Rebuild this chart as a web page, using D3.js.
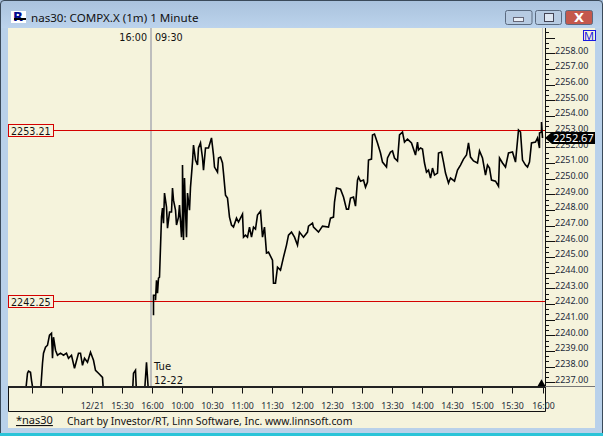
<!DOCTYPE html>
<html><head><meta charset="utf-8">
<script src="https://cdnjs.cloudflare.com/ajax/libs/d3/7.8.5/d3.min.js"></script>
<style>html,body{margin:0;padding:0;background:#b9d1ea}svg{display:block}</style></head>
<body><svg id="c" width="603" height="436"></svg>
<script>
const title = "nas30: COMPX.X (1m) 1 Minute";
const priorMinutes = [-127,-125,-124,-122,-121,-119,-112,-110,-109,-107,-105,-103,-101,-100,-99,-97,-95,-92,-89,-86,-84,-81,-78,-74,-72,-70,-68,-65,-62,-59,-57,-54,-50,-49,-20,-19,-17,-16,-8,-6,-4,-1];
const priorValues = [2236.4,2237.65,2237.78,2237.71,2237.2,2236.4,2236.4,2238.29,2238.93,2239.31,2239.44,2240.08,2240.2,2238.61,2239.95,2239.12,2238.8,2238.93,2238.8,2238.93,2238.61,2238.8,2237.97,2238.93,2238.93,2238.16,2238.61,2238.35,2238.99,2238.48,2237.84,2237.65,2237.39,2236.4,2236.4,2237.65,2237.84,2236.4,2236.4,2238.35,2236.4,2236.4];
const todayMinutes = [1,1,3,3,4,5,6,7,8,9,10,11,12,14,15,17,19,20,21,23,24,26,27,29,30,30,31,32,33,34,35,37,38,40,41,43,45,46,48,50,51,53,56,59,61,62,65,66,68,70,71,73,75,77,79,81,84,86,90,91,93,95,97,99,101,103,105,108,110,112,114,116,120,121,123,125,128,131,134,136,139,142,145,147,151,155,156,160,161,166,170,176,178,181,182,184,188,191,194,196,198,201,203,205,206,208,211,213,215,216,219,220,222,225,228,230,234,235,238,240,242,245,247,250,252,255,259,263,265,266,268,270,272,274,276,278,280,282,285,286,289,291,293,296,298,302,305,308,311,314,316,318,321,325,327,330,333,335,337,339,343,346,347,350,353,356,360,363,366,368,370,373,375,377,379,383,385,387,387,389,389,390];
const todayValues = [2241.36,2242.63,2242.63,2242.31,2243.59,2242.76,2243.72,2243.78,2245.7,2247.62,2248.19,2247.23,2249.15,2248.26,2246.91,2247.94,2247.94,2249.47,2248.7,2248.06,2247.11,2247.62,2248.38,2246.34,2247.87,2250.94,2246.15,2250.11,2248.06,2246.34,2249.15,2248.06,2249.53,2251.13,2252.22,2251.26,2250.94,2252.03,2252.35,2251.39,2250.62,2252.03,2252.03,2252.67,2251.58,2250.81,2250.49,2251.39,2251.45,2251.07,2250.43,2249.02,2248.83,2247.62,2247.11,2246.98,2247.55,2247.3,2247.81,2246.34,2246.47,2246.34,2246.98,2246.34,2246.98,2246.85,2247.75,2248,2246.34,2246.98,2245.32,2245.38,2244.87,2243.4,2243.4,2244.42,2244.23,2245.06,2245.83,2246.47,2246.66,2246.34,2245.83,2246.66,2246.34,2246.66,2247.04,2247.23,2246.98,2246.66,2247.04,2246.98,2247.55,2247.62,2248.58,2249.47,2249.4,2248.9,2248.13,2248.13,2248.83,2248.9,2248.32,2249.98,2250.17,2249.91,2249.98,2249.53,2249.85,2251.26,2251.32,2252.86,2252.92,2252.35,2251.71,2251.13,2250.81,2251.39,2251.77,2251.84,2251.39,2251.2,2252.86,2253.05,2252.41,2252.6,2252.35,2251.58,2252.41,2251.9,2252.03,2251.96,2251.07,2250.49,2250.62,2250.11,2250.75,2250.3,2250.43,2251.71,2251.77,2251.13,2250.43,2249.79,2250.11,2249.91,2250.62,2250.94,2251.32,2251.58,2252.35,2251.45,2251.2,2251.07,2251.84,2251.39,2250.3,2250.94,2250.75,2249.98,2249.91,2249.59,2251.39,2251.07,2250.81,2251.71,2251.77,2251.13,2253.18,2253.05,2251.26,2250.94,2250.81,2251.13,2252.35,2252.41,2252.67,2252.03,2252.99,2253.05,2253.69,2252.67];
const yTicks = [2258,2257,2256,2255,2254,2253,2252,2251,2250,2249,2248,2247,2246,2245,2244,2243,2242,2241,2240,2239,2238,2237];
const xTickMinutes = [-120,-90,-60,-30,0,30,60,90,120,150,180,210,240,270,300,330,360,391];
const xTickLabels = ["","","12/21","15:30","16:00","10:00","10:30","11:00","11:30","12:00","12:30","13:00","13:30","14:00","14:30","15:00","15:30","16:00"];
const refLevels = [2253.21,2242.25];
const lastValue = 2252.67;

const svg = d3.select("#c");
const font = "'DejaVu Sans',sans-serif";
const noto = "'Noto Sans',sans-serif";
const cream = "#f5f3dc";
const x = d3.scaleLinear().domain([0,390]).range([152.5,542.5]);
const y = d3.scaleLinear().domain([2242.25,2253.21]).range([301.2,129.5]);
const ay = v => y(v) - 1.3; // the axis ruler sits slightly above the price scale

// window chrome
const defs = svg.append("defs");
const g = defs.append("linearGradient").attr("id","tb").attr("x1",0).attr("x2",0).attr("y1",0).attr("y2",1);
g.append("stop").attr("offset",0).attr("stop-color","#a9c2dd");
g.append("stop").attr("offset",1).attr("stop-color","#bcd3ec");
svg.append("rect").attr("width",603).attr("height",436).attr("fill","#b9d1ea");
svg.append("rect").attr("width",603).attr("height",28).attr("fill","url(#tb)");
svg.append("path").attr("d","M0.5,436V4Q0.5,0.5 4,0.5H599Q602.5,0.5 602.5,4V436").attr("fill","none").attr("stroke","#3a4a5a");
svg.append("rect").attr("x",0).attr("y",433).attr("width",603).attr("height",3).attr("fill","#2bc4d8");
svg.append("rect").attr("x",8).attr("y",28).attr("width",587).attr("height",400).attr("fill",cream);
// icon
svg.append("rect").attr("x",11).attr("y",11).attr("width",15).attr("height",12).attr("fill","#fff");
svg.append("text").attr("x",13).attr("y",21).attr("font-family",font).attr("font-weight",700).attr("font-size",13).attr("fill","#000a8c").text("R");
svg.append("rect").attr("x",14).attr("y",18).attr("width",12).attr("height",2).attr("fill","#000");
svg.append("text").attr("x",31).attr("y",22).attr("font-family",noto).attr("font-size",11.6).attr("fill","#111").text(title);
// window buttons
[[505.5,"#b7cbe2"],[535.5,"#b7cbe2"],[565.5,"#c4584c"]].forEach((b,i)=>{
  svg.append("rect").attr("x",b[0]).attr("y",10.5).attr("width",i==0?26.5:(i==1?26:27)).attr("height",14).attr("rx",2).attr("fill",b[1]).attr("stroke","#5a6a80");
});
svg.append("rect").attr("x",513.5).attr("y",17.5).attr("width",10).attr("height",4).attr("fill","#e8eef6").attr("stroke","#667");
svg.append("rect").attr("x",544.5).attr("y",13.5).attr("width",9).attr("height",8).attr("fill","#dde6f2").attr("stroke","#445");
svg.append("text").attr("x",579).attr("y",22).attr("text-anchor","middle").attr("font-family",font).attr("font-weight",700).attr("font-size",13).attr("fill","#fff").text("X");

// clip for price
defs.append("clipPath").attr("id","pc").append("rect").attr("x",8).attr("y",28).attr("width",537).attr("height",358);

// vertical session lines
svg.append("line").attr("x1",151).attr("x2",151).attr("y1",28).attr("y2",386).attr("stroke","#bdbdbd").attr("stroke-width",2);
svg.append("line").attr("x1",542.5).attr("x2",542.5).attr("y1",28).attr("y2",386).attr("stroke","#c4c4c4").attr("stroke-width",1);

// ref lines
refLevels.forEach(v=>{
  svg.append("line").attr("x1",53).attr("x2",545).attr("y1",Math.round(y(v))+.5).attr("y2",Math.round(y(v))+.5).attr("stroke","#d40000");
  const r=Math.round(y(v));
  svg.append("rect").attr("x",8.5).attr("y",r-5.5).attr("width",45).attr("height",12).attr("fill",cream).attr("stroke","#d40000");
  svg.append("text").attr("x",11).attr("y",r+4.5).attr("font-family",font).attr("font-size",9.6).attr("fill","#111").text(v.toFixed(2));
});

// price
const line = d3.line().x(d=>x(d[0])).y(d=>y(d[1]));
const gp = svg.append("g").attr("clip-path","url(#pc)");
gp.append("path").attr("d",line(d3.zip(priorMinutes,priorValues))).attr("fill","none").attr("stroke","#000").attr("stroke-width",1.6);
gp.append("path").attr("d",line(d3.zip(todayMinutes,todayValues))).attr("fill","none").attr("stroke","#000").attr("stroke-width",1.6);

// y axis
const ya = svg.append("g");
ya.append("line").attr("x1",545.5).attr("x2",545.5).attr("y1",28).attr("y2",386).attr("stroke","#111");
d3.range(0,70).forEach(k=>{ const v=2236.99+k/3; if(ay(v)<30||ay(v)>386)return;
  const maj=k%3==0;
  const py=Math.round(ay(v))+.5;
  ya.append("line").attr("x1",545).attr("x2",maj?555:549).attr("y1",py).attr("y2",py).attr("stroke","#111");
});
yTicks.forEach(v=>{
  ya.append("text").attr("x",555).attr("y",ay(v)+.5).attr("font-family",noto).attr("font-size",9).attr("fill","#1c2a3a").text(v.toFixed(2));
});
svg.append("rect").attr("x",583.5).attr("y",30.5).attr("width",12).attr("height",10).attr("fill","none").attr("stroke","#1a1ae0");
svg.append("text").attr("x",589).attr("y",39.5).attr("text-anchor","middle").attr("font-family",noto).attr("font-size",11).attr("fill","#1a1ae0").text("M");

// last value tag
const ly=y(lastValue);
svg.append("path").attr("d",`M545,${ly}L552,${ly-6}H595V${ly+6}H552Z`).attr("fill","#000");
svg.append("text").attr("x",553).attr("y",ly+4).attr("font-family",noto).attr("font-size",11).attr("fill","#fff").text(lastValue.toFixed(2));

// x axis
svg.append("rect").attr("x",8).attr("y",386).attr("width",537).attr("height",2).attr("fill","#222");
svg.append("line").attr("x1",545).attr("x2",595).attr("y1",386.5).attr("y2",386.5).attr("stroke","#777");
svg.append("path").attr("d","M8.5,387V411.5H545.5V387").attr("fill","none").attr("stroke","#111");
xTickMinutes.forEach((m,i)=>{
  svg.append("line").attr("x1",x(m)).attr("x2",x(m)).attr("y1",388).attr("y2",393.5).attr("stroke","#111");
  if(xTickLabels[i]) svg.append("text").attr("x",x(m)).attr("y",408.5).attr("text-anchor","middle").attr("font-family",noto).attr("font-size",8.8).attr("fill","#1c2a3a").text(xTickLabels[i]);
});
svg.append("path").attr("d",d3.symbol(d3.symbolTriangle,28)()).attr("transform","translate(541.5,384)").attr("fill","#000");

// text annotations
svg.append("text").attr("x",147).attr("y",41).attr("text-anchor","end").attr("font-family",font).attr("font-size",9.6).attr("fill","#111").text("16:00");
svg.append("text").attr("x",155).attr("y",41).attr("font-family",font).attr("font-size",9.6).attr("fill","#111").text("09:30");
svg.append("text").attr("x",154).attr("y",370).attr("font-family",font).attr("font-size",10).attr("fill","#111").text("Tue");
svg.append("text").attr("x",154).attr("y",384).attr("font-family",font).attr("font-size",10).attr("fill","#111").text("12-22");

// footer
svg.append("text").attr("x",16).attr("y",424).attr("font-family",noto).attr("font-size",11).attr("fill","#111").attr("text-decoration","underline").text("*nas30");
svg.append("text").attr("x",67).attr("y",425).attr("font-family",noto).attr("font-size",10.4).attr("fill","#111").text("Chart by Investor/RT, Linn Software, Inc. www.linnsoft.com");
</script></body></html>
